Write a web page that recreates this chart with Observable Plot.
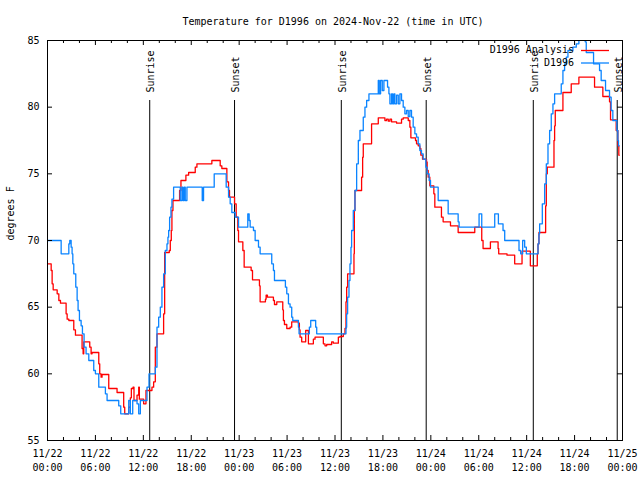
<!DOCTYPE html>
<html>
<head>
<meta charset="utf-8">
<script src="https://cdn.jsdelivr.net/npm/d3@7"></script>
<script src="https://cdn.jsdelivr.net/npm/@observablehq/plot@0.6"></script>
<style>
  html, body { margin: 0; padding: 0; background: white; }
</style>
</head>
<body>
<div id="chart"></div>
<script>
// ---- Data (hours after 2024-11-22 00:00 UTC, temperature °F) ----
const titleText = "Temperature for D1996 on 2024-Nov-22 (time in UTC)";
const yLabelText = "degrees F";
const seriesNames = ["D1996 Analysis", "D1996"];
const seriesColors = ["#ff0000", "#0a84ff"];

const analysisReadings = [
  [0,68.25],[0.46,67.75],[0.58,66.75],[0.71,66.3],[1.21,66.0],[1.42,65.5],[1.625,65.3],[2.33,64.5],[2.46,64.1],[2.67,64.0],
  [3.29,63.3],[3.5,62.9],[4.33,61.9],[4.46,61.5],[4.54,62.4],[5.29,62.0],[5.46,61.5],[5.58,61.6],[6.42,60.75],[6.54,60.0],
  [6.71,59.75],[6.83,59.95],[7.67,58.9],[8.71,58.6],[9.54,57.5],[9.67,57.0],[10.17,57.5],[10.375,58.2],[10.5,58.9],[10.71,59.0],
  [10.83,58.0],[11.21,58.4],[11.42,59.0],[11.5,58.1],[12.04,57.75],[12.33,58.75],[13.08,59.0],[13.29,59.4],[13.5,62.0],[13.71,63.0],
  [14.54,64.5],[14.67,69.1],[15.25,69.25],[15.375,70.0],[15.5,70.75],[15.58,72.25],[15.71,73.0],[16.54,73.75],[16.71,74.5],[17.33,74.9],
  [17.67,75.1],[18.5,75.5],[18.71,75.75],[20.58,76.0],[21.625,75.6],[21.83,75.4],[22.46,74.4],[22.67,73.75],[22.79,73.25],[23.42,72.75],
  [23.625,71.75],[23.83,70.75],[23.92,69.9],[24.46,69.25],[24.625,68.0],[25.5,67.75],[25.67,67.05],[26.54,66.6],[26.625,65.4],[27.29,65.6],
  [27.375,65.9],[27.54,65.75],[28.29,65.5],[28.42,65.2],[28.71,65.4],[29.46,64.8],[29.54,64.0],[29.67,63.7],[29.96,63.4],[30.375,63.5],
  [30.58,63.9],[31.42,63.8],[31.54,63.3],[31.625,62.75],[31.83,62.4],[32.33,63.25],[32.67,62.25],[33.29,62.6],[33.5,62.75],[34.54,62.25],
  [34.75,62.1],[34.96,62.2],[35.58,62.4],[35.79,62.3],[36.42,62.75],[36.625,62.8],[37.04,63.0],[37.25,63.4],[37.375,65.4],[37.46,66.5],
  [37.58,67.5],[38.375,69.0],[38.42,72.25],[38.5,73.75],[39.33,74.75],[39.46,76.25],[39.54,77.25],[40.58,78.75],[41.42,79.2],[42.25,79.0],
  [42.46,79.1],[42.67,78.95],[42.875,79.1],[43.08,78.9],[43.71,78.8],[44.33,79.1],[44.54,79.2],[45.17,79.0],[45.375,78.5],[45.5,77.7],
  [46.08,77.5],[46.21,77.25],[46.42,77.1],[46.625,76.9],[46.75,76.4],[46.96,76.1],[47.46,75.9],[47.54,75.25],[47.67,74.75],[47.875,74.1],
  [48.375,73.5],[48.5,72.5],[49.33,71.75],[49.54,71.4],[50.46,71.1],[51.42,70.6],[53.5,71.0],[54.375,70.0],[54.54,69.4],[55.46,69.9],
  [56.42,69.4],[56.5,69.0],[57.54,68.9],[58.5,68.25],[59.42,69.2],[60.46,68.1],[61.33,69.0],[61.42,69.75],[61.54,70.6],[62.375,72.6],
  [62.46,75.0],[62.58,75.5],[63.42,77.5],[63.5,78.6],[63.58,79.75],[64.54,81.1],[65.58,81.75],[66.54,82.25],[68.5,81.5],[69.54,80.8],
  [70.375,80.4],[70.5,79.05],[71.21,78.25],[71.42,77.1],[71.54,76.4],[71.6,76.4]
];

const observedReadings = [
  [0,70.0],[1.71,69.0],[2.67,69.75],[2.79,70.0],[2.96,69.5],[3.08,69.0],[3.17,68.25],[3.29,67.5],[3.54,66.5],[3.71,65.5],
  [3.83,64.75],[4.0,64.0],[4.21,63.6],[4.375,63.0],[4.58,62.0],[4.83,61.5],[5.17,61.0],[5.79,60.25],[6.0,60.0],[6.42,59.0],
  [7.25,58.5],[7.46,58.0],[8.92,57.6],[9.17,57.0],[10.17,58.0],[10.375,57.0],[10.67,58.0],[11.21,57.75],[11.42,57.0],[11.625,58.0],
  [12.46,59.0],[12.71,60.0],[13.5,60.5],[13.71,63.5],[13.92,64.25],[14.125,65.0],[14.33,66.5],[14.54,67.5],[14.75,69.25],[14.96,69.75],
  [15.08,70.25],[15.17,70.75],[15.29,71.75],[15.46,72.5],[15.58,73.1],[15.79,74.0],[16.625,73.0],[16.83,74.0],[16.96,73.0],[17.125,74.0],
  [17.25,73.0],[17.46,74.0],[19.375,73.0],[19.54,74.0],[20.875,75.0],[22.375,74.0],[22.67,73.25],[22.875,72.75],[23.08,72.1],[23.5,71.75],
  [23.92,71.0],[25.08,72.0],[25.25,71.5],[25.375,71.0],[25.79,70.75],[26.0,70.0],[26.42,69.5],[26.625,69.0],[28.08,68.25],[28.29,67.75],
  [28.42,67.0],[29.79,66.5],[29.96,66.0],[30.17,65.25],[30.375,65.0],[30.58,64.25],[30.71,64.0],[31.42,63.5],[31.5,63.0],[32.79,63.5],
  [32.96,64.0],[33.58,63.5],[33.71,63.0],[37.375,63.5],[37.46,64.5],[37.58,65.75],[37.75,67.0],[37.875,68.25],[38.0,69.5],[38.08,70.75],
  [38.29,72.25],[38.5,73.75],[38.71,75.75],[38.92,77.5],[39.125,78.25],[39.54,79.25],[39.75,80.0],[39.96,80.5],[40.25,81.0],[41.42,82.0],
  [41.54,81.0],[41.71,82.0],[41.92,81.25],[42.125,82.0],[42.58,81.5],[42.75,81.0],[42.875,80.25],[43.08,81.0],[43.21,80.25],[43.375,81.0],
  [43.5,80.25],[43.71,80.9],[43.92,80.25],[44.125,81.0],[44.33,80.5],[44.54,80.0],[44.75,79.5],[44.96,79.75],[45.17,79.3],[45.375,79.75],
  [45.58,79.25],[45.79,78.5],[46.0,78.0],[46.21,77.75],[46.42,77.25],[46.625,76.75],[46.83,76.5],[47.04,76.1],[47.375,75.5],[47.54,75.0],
  [47.79,74.5],[47.96,74.0],[48.92,73.0],[50.17,72.0],[51.42,71.4],[51.54,71.0],[54.04,72.0],[54.375,71.0],[56.0,72.0],[56.46,71.25],
  [57.04,70.75],[57.25,70.0],[59.04,69.25],[59.25,69.0],[59.5,70.0],[59.75,69.5],[59.96,69.0],[61.42,69.75],[61.54,70.5],[61.625,71.25],
  [61.96,72.75],[62.25,74.25],[62.46,75.75],[62.67,77.25],[62.875,78.25],[63.08,79.5],[63.29,80.25],[63.5,81.0],[64.33,81.75],[64.54,82.75],
  [64.75,83.25],[64.96,83.75],[65.17,84.25],[65.79,84.5],[66.21,84.75],[66.54,85.5],[67.33,84.9],[67.46,84.1],[68.375,83.25],[69.125,82.75],
  [69.33,82.0],[69.875,81.25],[70.375,80.75],[70.58,79.75],[70.79,79.0],[71.29,78.25],[71.42,77.5],[71.5,77.1],[71.6,77.1]
];

const sunEventHours = [12.8, 23.42, 36.79, 47.42, 60.83, 71.34];
const sunEventLabels = ["Sunrise", "Sunset", "Sunrise", "Sunset", "Sunrise", "Sunset"];
const yTickValues = [55, 60, 65, 70, 75, 80, 85];
const xMajorTickHours = [0, 6, 12, 18, 24, 30, 36, 42, 48, 54, 60, 66, 72];
const xMinorTickHours = [2, 4, 8, 10, 14, 16, 20, 22, 26, 28, 32, 34, 38, 40, 44, 46, 50, 52, 56, 58, 62, 64, 68, 70];

// ---- Build tables ----
const base = Date.UTC(2024, 10, 22, 0, 0, 0);
const toDate = (h) => new Date(base + h * 3600e3);
const analysis = analysisReadings.map(([h, v]) => ({t: toDate(h), v}));
const observed = observedReadings.map(([h, v]) => ({t: toDate(h), v}));
const sunEvents = sunEventHours.map((h, i) => ({t: toDate(h), label: sunEventLabels[i]}));
const majorTicks = xMajorTickHours.map(toDate);
const minorTicks = xMinorTickHours.map(toDate);

const W = 640, H = 480, mL = 47, mR = 18, mT = 40, mB = 40;
const plotW = W - mL - mR, plotH = H - mT - mB;

function legendMark(index, scales, values, dims) {
  const g = d3.create("svg:g");
  const xr = dims.width - dims.marginRight;
  seriesNames.forEach((name, i) => {
    const y = dims.marginTop + 10 + i * 12.5;
    g.append("text")
      .attr("x", xr - 48).attr("y", y).attr("dy", "0.32em")
      .attr("text-anchor", "end").attr("fill", "black")
      .text(name);
    g.append("line")
      .attr("x1", xr - 41).attr("x2", xr - 13)
      .attr("y1", y + 0.5).attr("y2", y + 0.5)
      .attr("stroke", seriesColors[i]).attr("stroke-width", 1.3);
  });
  return g.node();
}

const chart = Plot.plot({
  width: W,
  height: H,
  marginLeft: mL,
  marginRight: mR,
  marginTop: mT,
  marginBottom: mB,
  style: {fontFamily: "'DejaVu Sans Mono', monospace", fontSize: "10px", background: "white", color: "black"},
  x: {type: "utc", domain: [toDate(0), toDate(72)]},
  y: {domain: [55, 85]},
  marks: [
    // sunrise / sunset rules and labels
    Plot.ruleX(sunEvents, {x: "t", insetTop: 60, stroke: "black", strokeWidth: 1}),
    Plot.text(sunEvents, {x: "t", text: "label", frameAnchor: "top", dy: 52, dx: -2.5, rotate: -90, textAnchor: "start", fill: "black", fontSize: 10}),
    // data
    Plot.line(analysis, {x: "t", y: "v", curve: "step-after", stroke: seriesColors[0], strokeWidth: 1.3, clip: true}),
    Plot.line(observed, {x: "t", y: "v", curve: "step-after", stroke: seriesColors[1], strokeWidth: 1.3, clip: true}),
    // frame and inward ticks
    Plot.frame({stroke: "black", strokeWidth: 1}),
    Plot.ruleY(yTickValues, {insetRight: plotW - 5, stroke: "black"}),
    Plot.ruleY(yTickValues, {insetLeft: plotW - 5, stroke: "black"}),
    Plot.ruleX(majorTicks, {insetTop: plotH - 5, stroke: "black"}),
    Plot.ruleX(majorTicks, {insetBottom: plotH - 5, stroke: "black"}),
    Plot.ruleX(minorTicks, {insetTop: plotH - 3, stroke: "black"}),
    Plot.ruleX(minorTicks, {insetBottom: plotH - 3, stroke: "black"}),
    // axes labels
    Plot.axisY({ticks: yTickValues, tickSize: 0, tickPadding: 8, label: null, fontSize: 10}),
    Plot.axisX({ticks: majorTicks, tickSize: 0, tickPadding: 6.5, tickFormat: d3.utcFormat("%m/%d\n%H:%M"), lineHeight: 1.4, label: null, fontSize: 10}),
    // title, y label, legend
    Plot.text([titleText], {frameAnchor: "top", dy: -23, dx: -2, fill: "black", fontSize: 10}),
    Plot.text([yLabelText], {frameAnchor: "left", dx: -37, rotate: -90, fill: "black", fontSize: 10}),
    legendMark
  ]
});

document.getElementById("chart").appendChild(chart);
</script>
</body>
</html>
